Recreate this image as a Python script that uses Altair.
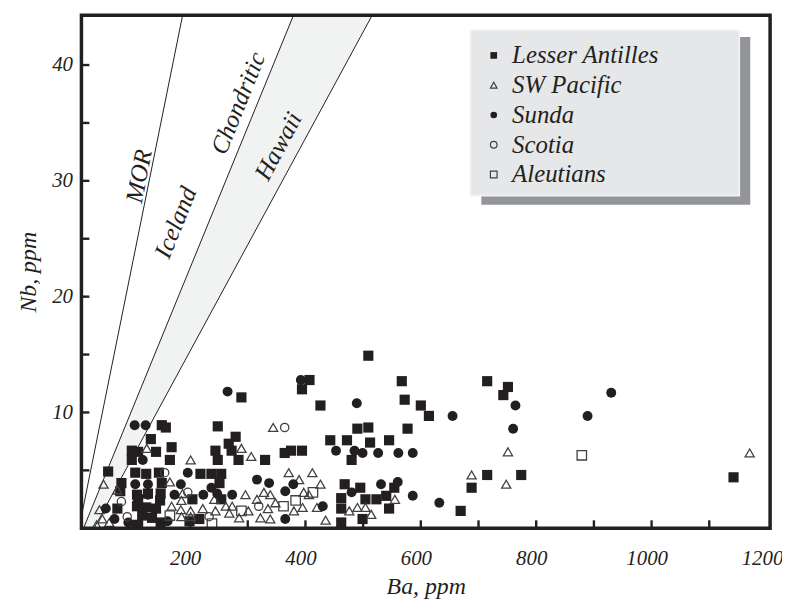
import altair as alt
import pandas as pd

# ---------------- data ----------------
series_names = ["Lesser Antilles", "SW Pacific", "Sunda", "Scotia", "Aleutians"]

la_ba = [151, 158, 132, 168, 99, 110, 141, 99, 165, 58, 105, 124, 146, 81, 151, 79, 108, 127, 149,
         110, 148, 74, 108, 124, 141, 117, 134, 110, 149,
         289, 248, 279, 267, 272, 244, 248, 284, 330, 364, 375, 394, 218, 237, 254, 251, 204, 254, 199, 216,
         394, 407, 509, 567, 715, 751, 743, 572, 600, 614, 426, 490, 509, 577, 443, 472, 512, 545, 480,
         715, 774, 688, 468, 495, 554, 462, 504, 523, 540, 669, 545, 462, 462, 499, 1142]
la_nb = [8.9, 8.7, 7.7, 7.0, 6.7, 6.6, 6.6, 5.9, 5.9, 4.9, 4.8, 4.7, 4.8, 3.9, 3.9, 3.2, 2.9, 3.0, 3.0,
         2.5, 2.4, 1.7, 1.9, 1.8, 1.7, 1.1, 0.9, 0.3, 0.5,
         11.3, 8.8, 7.9, 7.3, 6.7, 6.7, 5.9, 5.9, 5.9, 6.5, 6.7, 6.7, 4.7, 4.7, 4.7, 3.9, 2.5, 2.5, 0.6, 0.8,
         12.0, 12.8, 14.9, 12.7, 12.7, 12.2, 11.5, 11.1, 10.6, 9.7, 10.6, 8.6, 8.7, 8.6, 7.6, 7.6, 7.4, 7.6, 5.9,
         4.6, 4.6, 3.5, 3.8, 3.5, 3.5, 2.6, 2.5, 2.5, 2.8, 1.5, 1.7, 1.7, 0.5, 0.8, 4.4]

sw_ba = [125, 201, 50, 165, 74, 187, 185, 43, 48, 60, 38, 168, 184, 201, 185,
         289, 306, 344, 371, 412, 296, 328, 339, 316, 348, 242, 262, 273, 222, 244, 301, 335, 268, 285,
         322, 339, 201,
         389, 397, 406, 426, 380, 395, 420, 435, 476, 490, 504, 514, 555, 688, 748, 751, 1170]
sw_nb = [6.9, 5.9, 3.8, 4.0, 3.3, 3.0, 2.4, 1.6, 0.8, 0.5, 0.3, 1.9, 1.6, 1.5, 1.0,
         6.9, 6.2, 8.7, 4.8, 4.8, 2.9, 3.1, 2.9, 2.5, 2.2, 2.5, 1.9, 1.9, 1.7, 1.5, 1.5, 1.7, 1.3, 0.9,
         0.9, 0.8, 1.0,
         4.2, 3.1, 2.9, 3.8, 1.5, 1.8, 1.8, 0.7, 1.5, 1.8, 1.8, 1.2, 2.5, 4.6, 3.8, 6.6, 6.5]

su_ba = [104, 123, 118, 196, 105, 127, 184, 127, 173, 54, 69, 93, 161,
         265, 237, 247, 223, 273, 316, 337, 379, 365, 365,
         392, 489, 655, 764, 760, 453, 485, 499, 526, 561, 586, 560, 531, 480, 586, 632, 430, 889, 930]
su_nb = [8.9, 8.9, 5.9, 4.8, 3.8, 3.8, 3.8, 2.9, 2.9, 1.7, 0.8, 0.5, 0.6,
         11.8, 3.5, 3.0, 2.9, 2.9, 4.2, 3.9, 3.8, 3.2, 0.8,
         12.8, 10.8, 9.7, 10.6, 8.6, 6.7, 6.7, 6.5, 6.5, 6.5, 6.5, 4.0, 3.8, 3.1, 2.8, 2.2, 1.9, 9.7, 11.7]

sc_ba = [156, 81, 91, 196, 364, 319, 233]
sc_nb = [4.8, 2.3, 1.0, 3.1, 8.7, 1.9, 1.0]

al_ba = [165, 289, 362, 383, 413, 238, 879]
al_nb = [1.1, 1.5, 1.9, 2.4, 3.1, 0.4, 6.3]

# reference lines (Ba at Nb = 0 and at the top of the plot)
ref_names = ["MOR", "Chondritic", "Hawaii"]
ref_ba_bottom = [7.5, 15.3, 33.5]
ref_ba_top = [187.1, 379.3, 515.7]
ref_nb = [0, 44.3]

# labels of the reference lines
lab_text = ["MOR", "Iceland", "Chondritic", "Hawaii"]
lab_ba = [111.5, 175, 283.5, 353]
lab_nb = [30.4, 26.4, 36.7, 33.0]
lab_angle = [281, 292, 292, 298]

x_tick_labels = [200, 400, 600, 800, 1000, 1200]
y_tick_labels = [10, 20, 30, 40]
x_minor = [100, 200, 300, 400, 500, 600, 700, 800, 900, 1000, 1100]
y_minor = [5, 10, 15, 20, 25, 30, 35, 40]

X_MIN, X_MAX = 11.7, 1205.4
Y_MIN, Y_MAX = 0, 44.3

# ---------------- build tables ----------------
sizes = {"Lesser Antilles": 105, "SW Pacific": 85, "Sunda": 100, "Scotia": 70, "Aleutians": 90}
rows = []
for name, bas, nbs in [("Lesser Antilles", la_ba, la_nb), ("SW Pacific", sw_ba, sw_nb),
                       ("Sunda", su_ba, su_nb), ("Scotia", sc_ba, sc_nb), ("Aleutians", al_ba, al_nb)]:
    for b, n in zip(bas, nbs):
        rows.append({"series": name, "Ba": b, "Nb": n, "sz": sizes[name]})
pts = pd.DataFrame(rows)

line_rows = []
for nm, b0, b1 in zip(ref_names, ref_ba_bottom, ref_ba_top):
    line_rows.append({"line": nm, "Nb": ref_nb[0], "Ba": b0})
    line_rows.append({"line": nm, "Nb": ref_nb[1], "Ba": b1})
lines_df = pd.DataFrame(line_rows)

band_df = pd.DataFrame({"Nb": ref_nb,
                        "lo": [ref_ba_bottom[1], ref_ba_top[1]],
                        "hi": [ref_ba_bottom[2], ref_ba_top[2]]})
labels_df = pd.DataFrame({"t": lab_text, "Ba": lab_ba, "Nb": lab_nb, "ang": lab_angle})

FONT = "Liberation Serif"
INK = "#231f20"
OPEN = "#414042"
W, H = 694, 517
TICK_NB = 8 * (Y_MAX - Y_MIN) / H       # 8 px expressed in Nb units
TICK_BA = 8 * (X_MAX - X_MIN) / W       # 8 px expressed in Ba units

# inward ticks as short two-point line segments
tick_rows = []
for v in x_minor:
    tick_rows.append({"id": f"x{v}", "Ba": v, "Nb": Y_MIN})
    tick_rows.append({"id": f"x{v}", "Ba": v, "Nb": Y_MIN + TICK_NB})
for v in y_minor:
    tick_rows.append({"id": f"y{v}", "Ba": X_MIN, "Nb": v})
    tick_rows.append({"id": f"y{v}", "Ba": X_MIN + TICK_BA, "Nb": v})
ticks_df = pd.DataFrame(tick_rows)
one = pd.DataFrame({"a": [0]})

xs = alt.Scale(domain=[X_MIN, X_MAX], nice=False, zero=False)
ys = alt.Scale(domain=[Y_MIN, Y_MAX], nice=False, zero=False)
x_axis = alt.Axis(values=x_tick_labels, format="d", ticks=False, domain=False, grid=False,
                  labelFlush=False, labelOverlap=False,
                  labelFont=FONT, labelFontStyle="italic", labelFontSize=21, labelColor=INK,
                  labelPadding=20, labelOffset=-5, title="Ba, ppm", titleFont=FONT,
                  titleFontStyle="italic", titleFontWeight="normal", titleFontSize=24,
                  titleColor=INK, titlePadding=6)
y_axis = alt.Axis(values=y_tick_labels, format="d", ticks=False, domain=False, grid=False,
                  labelFlush=False, labelOverlap=False,
                  labelFont=FONT, labelFontStyle="italic", labelFontSize=21, labelColor=INK,
                  labelPadding=9, title="Nb, ppm", titleFont=FONT,
                  titleFontStyle="italic", titleFontWeight="normal", titleFontSize=24,
                  titleColor=INK, titlePadding=11)

band = alt.Chart(band_df).mark_area(orient="horizontal", color="#f1f2f2", clip=True).encode(
    y=alt.Y("Nb:Q", scale=ys, axis=y_axis),
    x=alt.X("lo:Q", scale=xs, axis=x_axis),
    x2="hi:Q",
)

lines = alt.Chart(lines_df).mark_line(color=INK, strokeWidth=1, clip=True).encode(
    x=alt.X("Ba:Q", scale=xs, axis=x_axis),
    y=alt.Y("Nb:Q", scale=ys, axis=y_axis),
    detail="line:N",
)

line_labels = alt.Chart(labels_df).mark_text(
    font=FONT, fontStyle="italic", fontSize=25, color=INK, align="center", baseline="middle"
).encode(
    x=alt.X("Ba:Q", scale=xs, axis=x_axis),
    y=alt.Y("Nb:Q", scale=ys, axis=y_axis),
    text="t:N",
    angle=alt.Angle("ang:Q", scale=None),
)

ticks = alt.Chart(ticks_df).mark_line(color=INK, strokeWidth=2.4, strokeCap="butt").encode(
    x=alt.X("Ba:Q", scale=xs, axis=x_axis),
    y=alt.Y("Nb:Q", scale=ys, axis=y_axis),
    detail="id:N",
)

shadow = alt.Chart(one).mark_rect(color="#939598").encode(
    x=alt.value(403), x2=alt.value(674), y=alt.value(22), y2=alt.value(191))
box = alt.Chart(one).mark_rect(fill="#e6e7e8", stroke="#f4f4f4", strokeWidth=1.5).encode(
    x=alt.value(392), x2=alt.value(663), y=alt.value(15), y2=alt.value(182))
frame = alt.Chart(one).mark_rect(fill="transparent", stroke=INK, strokeWidth=3.5).encode(
    x=alt.value(0), x2=alt.value(W), y=alt.value(0), y2=alt.value(H))

legend = alt.Legend(orient="none", legendX=403, legendY=28, title=None,
                    labelFont=FONT, labelFontStyle="italic", labelFontSize=25, labelColor=INK,
                    symbolSize=45, symbolStrokeWidth=1.2, rowPadding=4, labelOffset=6, padding=0)

sdom = series_names
points = alt.Chart(pts).mark_point(strokeWidth=1.3, opacity=1).encode(
    x=alt.X("Ba:Q", scale=xs, axis=x_axis),
    y=alt.Y("Nb:Q", scale=ys, axis=y_axis),
    shape=alt.Shape("series:N", sort=sdom, legend=legend,
                    scale=alt.Scale(domain=sdom, range=["square", "triangle-up", "circle", "circle", "square"])),
    fill=alt.Fill("series:N", sort=sdom, legend=legend,
                  scale=alt.Scale(domain=sdom, range=[INK, "transparent", INK, "transparent", "transparent"])),
    stroke=alt.Stroke("series:N", sort=sdom, legend=legend,
                      scale=alt.Scale(domain=sdom, range=["transparent", OPEN, "transparent", OPEN, OPEN])),
    size=alt.Size("sz:Q", scale=None),
)

chart = alt.layer(band, lines, line_labels, ticks, shadow, box, points, frame).properties(
    width=W, height=H,
    background="white",
    autosize=alt.AutoSizeParams(type="none"),
    padding={"left": 74, "top": 5, "right": 12, "bottom": 70},
).configure_view(strokeWidth=0)

chart.save("out.html", embed_options={"renderer": "svg", "actions": False})
